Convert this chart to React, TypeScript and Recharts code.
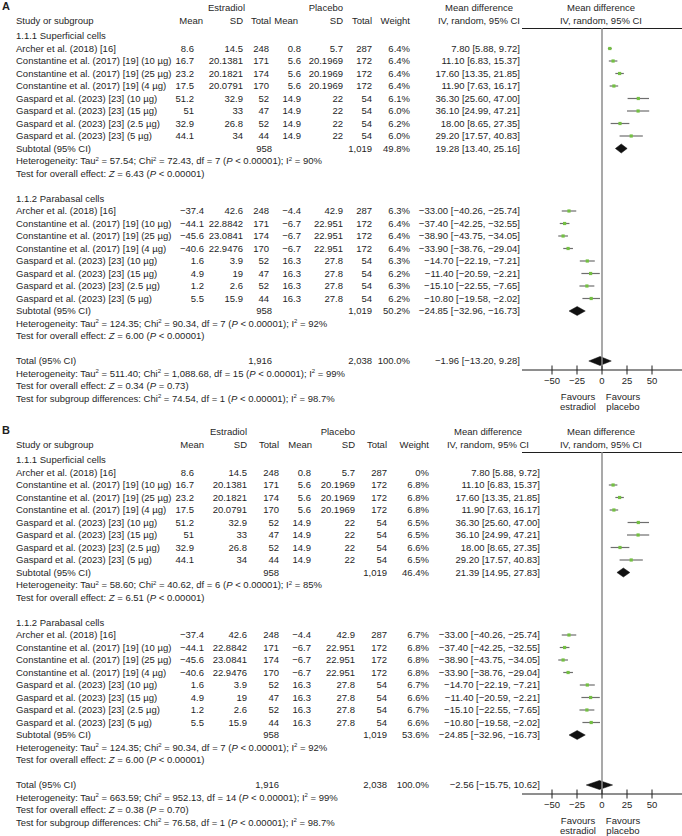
import React from 'react';
import { ComposedChart, Scatter, ErrorBar, Area, XAxis, YAxis, ReferenceLine } from 'recharts';

const FONT = '"Liberation Sans", Arial, Helvetica, sans-serif';
const INK = '#1f1f1f';

// study labels, same order in both subgroups
const STUDIES = [
  'Archer et al. (2018) [16]',
  'Constantine et al. (2017) [19] (10 \u00b5g)',
  'Constantine et al. (2017) [19] (25 \u00b5g)',
  'Constantine et al. (2017) [19] (4 \u00b5g)',
  'Gaspard et al. (2023) [23] (10 \u00b5g)',
  'Gaspard et al. (2023) [23] (15 \u00b5g)',
  'Gaspard et al. (2023) [23] (2.5 \u00b5g)',
  'Gaspard et al. (2023) [23] (5 \u00b5g)',
];
const GROUPS = ['1.1.1 Superficial cells', '1.1.2 Parabasal cells'];
const EST_N = [248, 171, 174, 170, 52, 47, 52, 44];
const PLA_N = [287, 172, 172, 172, 54, 54, 54, 54];

// 1.1.1 superficial cells
const SUP_EST_MEAN = [8.6, 16.7, 23.2, 17.5, 51.2, 51, 32.9, 44.1];
const SUP_EST_SD = [14.5, 20.1381, 20.1821, 20.0791, 32.9, 33, 26.8, 34];
const SUP_PLA_MEAN = [0.8, 5.6, 5.6, 5.6, 14.9, 14.9, 14.9, 14.9];
const SUP_PLA_SD = [5.7, 20.1969, 20.1969, 20.1969, 22, 22, 22, 22];
const SUP_MD = [7.8, 11.1, 17.6, 11.9, 36.3, 36.1, 18.0, 29.2];
const SUP_LO = [5.88, 6.83, 13.35, 7.63, 25.6, 24.99, 8.65, 17.57];
const SUP_HI = [9.72, 15.37, 21.85, 16.17, 47.0, 47.21, 27.35, 40.83];

// 1.1.2 parabasal cells
const PAR_EST_MEAN = [-37.4, -44.1, -45.6, -40.6, 1.6, 4.9, 1.2, 5.5];
const PAR_EST_SD = [42.6, 22.8842, 23.0841, 22.9476, 3.9, 19, 2.6, 15.9];
const PAR_PLA_MEAN = [-4.4, -6.7, -6.7, -6.7, 16.3, 16.3, 16.3, 16.3];
const PAR_PLA_SD = [42.9, 22.951, 22.951, 22.951, 27.8, 27.8, 27.8, 27.8];
const PAR_MD = [-33.0, -37.4, -38.9, -33.9, -14.7, -11.4, -15.1, -10.8];
const PAR_LO = [-40.26, -42.25, -43.75, -38.76, -22.19, -20.59, -22.55, -19.58];
const PAR_HI = [-25.74, -32.55, -34.05, -29.04, -7.21, -2.21, -7.65, -2.02];

// weights (%)
const A_SUP_W = [6.4, 6.4, 6.4, 6.4, 6.1, 6.0, 6.2, 6.0];
const A_PAR_W = [6.3, 6.4, 6.4, 6.4, 6.3, 6.2, 6.3, 6.2];
const B_SUP_W = [0, 6.8, 6.8, 6.8, 6.5, 6.5, 6.6, 6.5];
const B_PAR_W = [6.7, 6.8, 6.8, 6.8, 6.7, 6.6, 6.7, 6.6];

// subtotals [superficial, parabasal] and totals [md, lo, hi]
const A_SUB_MD = [19.28, -24.85];
const A_SUB_LO = [13.4, -32.96];
const A_SUB_HI = [25.16, -16.73];
const A_SUB_W = [49.8, 50.2];
const A_TOTAL = [-1.96, -13.2, 9.28];
const B_SUB_MD = [21.39, -24.85];
const B_SUB_LO = [14.95, -32.96];
const B_SUB_HI = [27.83, -16.73];
const B_SUB_W = [46.4, 53.6];
const B_TOTAL = [-2.56, -15.75, 10.62];
const SUB_N = ['958', '1,019'];
const TOTAL_N = ['1,916', '2,038'];

// heterogeneity: [superficial, parabasal, total]
const A_TAU = ['57.54', '124.35', '511.40'];
const A_CHI = ['72.43', '90.34', '1,088.68'];
const A_DF = [7, 7, 15];
const A_I2 = ['90%', '92%', '99%'];
const A_Z = ['6.43', '6.00', '0.34'];
const A_ZP = ['< 0.00001', '< 0.00001', '= 0.73'];
const A_SUBGROUP = ['74.54', '1', '98.7%'];
const B_TAU = ['58.60', '124.35', '663.59'];
const B_CHI = ['40.62', '90.34', '952.13'];
const B_DF = [6, 7, 14];
const B_I2 = ['85%', '92%', '99%'];
const B_Z = ['6.51', '6.00', '0.38'];
const B_ZP = ['< 0.00001', '< 0.00001', '= 0.70'];
const B_SUBGROUP = ['76.58', '1', '98.7%'];

const TICKS = [-50, -25, 0, 25, 50];

const fmt = (v: number, d?: number) => (d != null ? v.toFixed(d) : String(v)).replace('-', '\u2212');
const fmtW = (w: number) => (w === 0 ? '0%' : w.toFixed(1) + '%');
const ci = (m: number, lo: number, hi: number) => `${fmt(m, 2)} [${fmt(lo, 2)}, ${fmt(hi, 2)}]`;

const T = ({ x, y, a = 'left', children, style }: any) => {
  const base: React.CSSProperties = { position: 'absolute', top: y, whiteSpace: 'nowrap', lineHeight: 1 };
  if (a === 'right') return <div style={{ ...base, right: 682 - x, transform: 'translateY(-50%)', ...style }}>{children}</div>;
  if (a === 'center') return <div style={{ ...base, left: x, transform: 'translate(-50%, -50%)', ...style }}>{children}</div>;
  return <div style={{ ...base, left: x, transform: 'translateY(-50%)', ...style }}>{children}</div>;
};

const Sup = ({ children }: any) => (
  <span style={{ fontSize: 6, position: 'relative', top: -3.5 }}>{children}</span>
);

// tick mark crossing the axis line, label underneath
const AxisTick = ({ x, y, payload }: any) => (
  <g>
    <line x1={x} x2={x} y1={y - 4.5} y2={y + 4.5} stroke={INK} strokeWidth={1} />
    <text x={x} y={y + 13.5} textAnchor="middle" fontSize={9.5} fontFamily={FONT} fill={INK}>
      {fmt(payload.value)}
    </text>
  </g>
);

const Square = (p: any) => <rect x={p.cx - 1.6} y={p.cy - 1.6} width={3.2} height={3.2} fill="#74c043" />;

const DH = 0.36; // diamond half height, in rows

function Panel(props: any) {
  const { top, label, c, supW, parW, subMd, subLo, subHi, subW, total, tau, chi, df, i2, z, zp, subgroup } = props;
  const ry = (i: number) => top + 36 + 12.5 * i;
  const groups = [
    { start: 0, em: SUP_EST_MEAN, es: SUP_EST_SD, pm: SUP_PLA_MEAN, ps: SUP_PLA_SD, md: SUP_MD, lo: SUP_LO, hi: SUP_HI, w: supW },
    { start: 13, em: PAR_EST_MEAN, es: PAR_EST_SD, pm: PAR_PLA_MEAN, ps: PAR_PLA_SD, md: PAR_MD, lo: PAR_LO, hi: PAR_HI, w: parW },
  ];

  const points = groups.flatMap((g) =>
    g.md
      .map((m: number, k: number) => ({ x: m, y: g.start + 1 + k, err: [m - g.lo[k], g.hi[k] - m], w: g.w[k] }))
      .filter((p: any) => p.w > 0)
  );
  const diamonds = [
    { row: 9, md: subMd[0], lo: subLo[0], hi: subHi[0] },
    { row: 22, md: subMd[1], lo: subLo[1], hi: subHi[1] },
    { row: 26, md: total[0], lo: total[1], hi: total[2] },
  ].map((d) => [
    { x: d.lo, band: [d.row, d.row] },
    { x: d.md, band: [d.row - DH, d.row + DH] },
    { x: d.hi, band: [d.row, d.row] },
  ]);

  const het = (k: number) => (
    <>
      Heterogeneity: Tau<Sup>2</Sup> = {tau[k]}; Chi<Sup>2</Sup> = {chi[k]}, df = {df[k]} (<i>P</i> &lt; 0.00001); I<Sup>2</Sup> = {i2[k]}
    </>
  );
  const zt = (k: number) => (
    <>
      Test for overall effect: <i>Z</i> = {z[k]} (<i>P</i> {zp[k]})
    </>
  );

  return (
    <>
      <T x={2} y={top + 6} style={{ fontWeight: 'bold', fontSize: 11 }}>{label}</T>
      <T x={c.estHead} y={top + 8} a="right">Estradiol</T>
      <T x={c.plHead} y={top + 8} a="right">Placebo</T>
      <T x={c.mdHead} y={top + 8} a="center">Mean difference</T>
      <T x={601} y={top + 8} a="center">Mean difference</T>
      <T x={16} y={top + 20.5}>Study or subgroup</T>
      <T x={c.hMean} y={top + 20.5} a="right">Mean</T>
      <T x={c.estSd} y={top + 20.5} a="right">SD</T>
      <T x={c.hTotal} y={top + 20.5} a="right">Total</T>
      <T x={c.hPlMean} y={top + 20.5} a="right">Mean</T>
      <T x={c.plSd} y={top + 20.5} a="right">SD</T>
      <T x={c.plTotal} y={top + 20.5} a="right">Total</T>
      <T x={c.weight} y={top + 20.5} a="right">Weight</T>
      <T x={c.mdHead} y={top + 20.5} a="center">IV, random, 95% CI</T>
      <T x={601} y={top + 20.5} a="center">IV, random, 95% CI</T>

      {groups.map((g, gi) => (
        <React.Fragment key={gi}>
          <T x={16} y={ry(g.start)}>{GROUPS[gi]}</T>
          {STUDIES.map((s, k) => {
            const y = ry(g.start + 1 + k);
            return (
              <React.Fragment key={k}>
                <T x={16} y={y}>{s}</T>
                <T x={c.estMean[gi]} y={y} a="right">{fmt(g.em[k])}</T>
                <T x={c.estSd} y={y} a="right">{fmt(g.es[k])}</T>
                <T x={c.estTotal} y={y} a="right">{EST_N[k]}</T>
                <T x={c.plMean} y={y} a="right">{fmt(g.pm[k])}</T>
                <T x={c.plSd} y={y} a="right">{fmt(g.ps[k])}</T>
                <T x={c.plTotal} y={y} a="right">{PLA_N[k]}</T>
                <T x={c.weight} y={y} a="right">{fmtW(g.w[k])}</T>
                <T x={c.ci} y={y} a="right">{ci(g.md[k], g.lo[k], g.hi[k])}</T>
              </React.Fragment>
            );
          })}
          <T x={16} y={ry(g.start + 9)}>Subtotal (95% CI)</T>
          <T x={c.subN} y={ry(g.start + 9)} a="right">{SUB_N[0]}</T>
          <T x={c.plTotal} y={ry(g.start + 9)} a="right">{SUB_N[1]}</T>
          <T x={c.weight} y={ry(g.start + 9)} a="right">{fmtW(subW[gi])}</T>
          <T x={c.ci} y={ry(g.start + 9)} a="right">{ci(subMd[gi], subLo[gi], subHi[gi])}</T>
          <T x={16} y={ry(g.start + 10)}>{het(gi)}</T>
          <T x={16} y={ry(g.start + 11)}>{zt(gi)}</T>
        </React.Fragment>
      ))}

      <T x={16} y={ry(26)}>Total (95% CI)</T>
      <T x={c.subN} y={ry(26)} a="right">{TOTAL_N[0]}</T>
      <T x={c.plTotal} y={ry(26)} a="right">{TOTAL_N[1]}</T>
      <T x={c.weight} y={ry(26)} a="right">100.0%</T>
      <T x={c.ci} y={ry(26)} a="right">{ci(total[0], total[1], total[2])}</T>
      <T x={16} y={ry(27)}>{het(2)}</T>
      <T x={16} y={ry(28)}>{zt(2)}</T>
      <T x={16} y={ry(29)}>
        Test for subgroup differences: Chi<Sup>2</Sup> = {subgroup[0]}, df = {subgroup[1]} (<i>P</i> &lt; 0.00001); I<Sup>2</Sup> = {subgroup[2]}
      </T>

      <div style={{ position: 'absolute', left: 522, top: top + 27.5, width: 160, height: 1, background: INK }} />
      <div style={{ position: 'absolute', left: 522, top: top + 28 }}>
        <ComposedChart width={160} height={362} margin={{ top: 0, right: 0, bottom: 0, left: 0 }}>
          <XAxis
            type="number"
            dataKey="x"
            domain={[-80, 80]}
            ticks={TICKS}
            interval={0}
            allowDataOverflow
            tickSize={0}
            tickMargin={0}
            height={20}
            axisLine={{ stroke: INK }}
            tickLine={false}
            tick={<AxisTick />}
          />
          <YAxis type="number" dataKey="y" hide reversed domain={[-0.64, 26.72]} allowDataOverflow />
          <ReferenceLine x={0} stroke="#8c8c8c" strokeWidth={1.5} />
          {diamonds.map((d, i) => (
            <Area
              key={i}
              data={d}
              dataKey="band"
              type="linear"
              stroke="#111"
              strokeWidth={0.5}
              fill="#111"
              fillOpacity={1}
              dot={false}
              activeDot={false}
              isAnimationActive={false}
            />
          ))}
          <Scatter data={points} shape={Square} isAnimationActive={false}>
            <ErrorBar dataKey="err" direction="x" width={0} stroke="#6e6e6e" strokeWidth={1.2} />
          </Scatter>
        </ComposedChart>
      </div>
      <T x={578} y={top + 397} a="center">Favours</T>
      <T x={578} y={top + 407} a="center">estradiol</T>
      <T x={623} y={top + 397} a="center">Favours</T>
      <T x={623} y={top + 407} a="center">placebo</T>
    </>
  );
}

const COLS_A = {
  estHead: 245, plHead: 343, mdHead: 479,
  hMean: 203, hTotal: 271, hPlMean: 298,
  estMean: [194, 204], estSd: 243, estTotal: 269, plMean: 301, plSd: 343, plTotal: 372,
  weight: 410, ci: 520, subN: 272,
};
const COLS_B = {
  estHead: 247, plHead: 355, mdHead: 488,
  hMean: 204, hTotal: 279, hPlMean: 312,
  estMean: [194, 204], estSd: 247, estTotal: 279, plMean: 311, plSd: 355, plTotal: 387,
  weight: 429, ci: 540, subN: 279,
};

export default function App() {
  return (
    <div
      style={{
        position: 'absolute',
        left: 0,
        top: 0,
        width: 682,
        height: 836,
        background: '#fff',
        fontFamily: FONT,
        fontSize: 9.5,
        color: INK,
        overflow: 'hidden',
      }}
    >
      <Panel
        top={0}
        label="A"
        c={COLS_A}
        supW={A_SUP_W}
        parW={A_PAR_W}
        subMd={A_SUB_MD}
        subLo={A_SUB_LO}
        subHi={A_SUB_HI}
        subW={A_SUB_W}
        total={A_TOTAL}
        tau={A_TAU}
        chi={A_CHI}
        df={A_DF}
        i2={A_I2}
        z={A_Z}
        zp={A_ZP}
        subgroup={A_SUBGROUP}
      />
      <Panel
        top={424}
        label="B"
        c={COLS_B}
        supW={B_SUP_W}
        parW={B_PAR_W}
        subMd={B_SUB_MD}
        subLo={B_SUB_LO}
        subHi={B_SUB_HI}
        subW={B_SUB_W}
        total={B_TOTAL}
        tau={B_TAU}
        chi={B_CHI}
        df={B_DF}
        i2={B_I2}
        z={B_Z}
        zp={B_ZP}
        subgroup={B_SUBGROUP}
      />
    </div>
  );
}
